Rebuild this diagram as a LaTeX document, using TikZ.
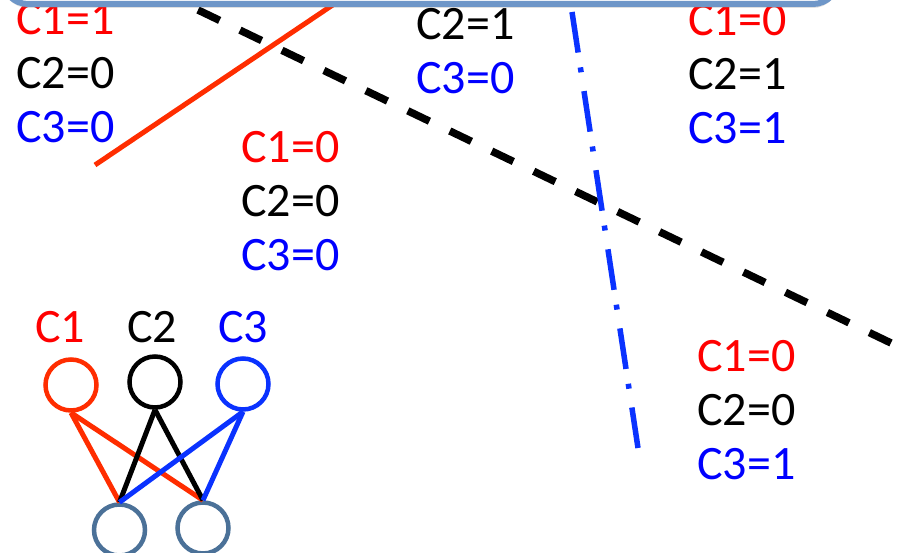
\documentclass[tikz,border=0pt]{standalone}
\usepackage{fontspec}
\setmainfont{Carlito}
\usetikzlibrary{positioning,shadows}

\definecolor{valred}{RGB}{255,0,0}
\definecolor{valblue}{RGB}{0,0,255}
\definecolor{linered}{RGB}{255,45,0}
\definecolor{lineblue}{RGB}{10,50,255}
\definecolor{boxblue}{RGB}{110,150,200}
\definecolor{hidblue}{RGB}{75,113,152}

\begin{document}
\begin{tikzpicture}[x=1pt,y=-1pt,
  vals/.style={anchor=west,inner sep=0pt,align=left,font=\fontsize{48}{54}\selectfont},
  lab/.style={inner sep=0pt,font=\fontsize{48}{54}\selectfont},
  unit/.style={circle,draw,line width=4.5pt,minimum size=51pt,inner sep=0pt},
  wire/.style={line width=5pt}]
\clip (0,0) rectangle (901,553);

% separating lines
\coordinate (r1) at (95,165);
\coordinate (r2) at (349,-6);
\coordinate (k1) at (198,10);
\coordinate (k2) at (891,343);
\coordinate (b1) at (572,12);
\coordinate (b2) at (638,448);
\draw[line width=5pt,linered] (r1) -- (r2);
\draw[line width=7.5pt,dash pattern=on 24pt off 22.55pt] (k1) -- (k2);
\draw[line width=5.5pt,lineblue,dash pattern=on 41pt off 15pt on 5pt off 19pt] (b1) -- (b2);

% region values
\node[vals] (left) at (16,73) {\textcolor{valred}{C1=1}\\C2=0\\\textcolor{valblue}{C3=0}};
\node[vals] (top) at (416,51.5) {C2=1\\\textcolor{valblue}{C3=0}};
\node[vals] (right) at (688,74) {\textcolor{valred}{C1=0}\\C2=1\\\textcolor{valblue}{C3=1}};
\node[vals] (mid) at (241,201) {\textcolor{valred}{C1=0}\\C2=0\\\textcolor{valblue}{C3=0}};
\node[vals] (low) at (697,410) {\textcolor{valred}{C1=0}\\C2=0\\\textcolor{valblue}{C3=1}};

% top box
\draw[boxblue,line width=6pt,fill=white,rounded corners=25pt,
  drop shadow={shadow xshift=0pt,shadow yshift=-4pt,opacity=0.25}] (3,-80) rectangle (838,4);

% small network
\node[unit,draw=linered] (c1) at (71,385) {};
\node[unit,draw=black] (c2) at (155,382) {};
\node[unit,draw=lineblue] (c3) at (243,384) {};
\node[unit,draw=hidblue] (h1) at (119.5,530) {};
\node[unit,draw=hidblue] (h2) at (203,528) {};
\node[lab,text=valred] (l1) at (60,327) {C1};
\node[lab] (l2) at (152,327) {C2};
\node[lab,text=valblue] (l3) at (243,327) {C3};
\draw[wire,linered] (c1.south) -- (h1.north);
\draw[wire,linered] (c1.south) -- (h2.north);
\draw[wire] (c2.south) -- (h1.north);
\draw[wire] (c2.south) -- (h2.north);
\draw[wire,lineblue] (c3.south) -- (h1.north);
\draw[wire,lineblue] (c3.south) -- (h2.north);
\end{tikzpicture}
\end{document}
